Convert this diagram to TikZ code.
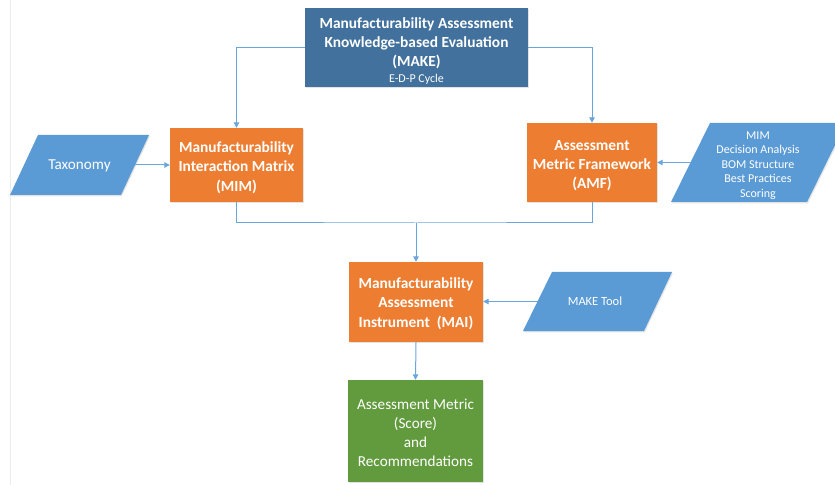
\documentclass[tikz,border=0pt]{standalone}
\usepackage{fontspec}
\setmainfont{Carlito}
\usetikzlibrary{arrows.meta,shadows}
\definecolor{makeblue}{HTML}{41719C}
\definecolor{orng}{HTML}{ED7D31}
\definecolor{pblue}{HTML}{5B9BD5}
\definecolor{grn}{HTML}{629B3E}
\definecolor{conn}{HTML}{6AA5DC}
\newcommand{\lift}[1]{\rule{0pt}{#1}}
\begin{document}
\begin{tikzpicture}[x=1bp,y=-1bp,
  shade/.style={drop shadow={opacity=0.22,shadow xshift=0.8bp,shadow yshift=-1.4bp}},
  box/.style={rectangle, fill=#1, text=white, align=center, inner sep=0pt, shade},
  parashape/.style={fill=pblue, shade},
  ptext/.style={text=white, align=center, inner sep=0pt},
  fbig/.style={font=\fontsize{15.4bp}{19.3bp}\selectfont\bfseries},
  freg/.style={font=\fontsize{15.2bp}{19bp}\selectfont},
  fsmall/.style={font=\fontsize{12bp}{14.5bp}\selectfont},
  link/.style={draw=conn, line width=1bp},
  arr/.style={link, -{Triangle[length=5.5bp,width=5.5bp]}}
]
\useasboundingbox (0,0) rectangle (835,485);
\fill[white] (0,0) rectangle (835,485);
\draw[black!8, line width=0.8bp] (10,0) -- (10,485);

\node[box=makeblue, fbig, minimum width=223bp, minimum height=79bp] (make) at (416.5,47.5)
  {\lift{18bp}Manufacturability Assessment\\Knowledge-based Evaluation\\(MAKE)\\[-3.3bp]{\fontsize{12bp}{14bp}\selectfont\mdseries E-D-P Cycle}};

\node[box=orng, fbig, minimum width=133bp, minimum height=74bp] (mim) at (236.5,165)
  {\lift{16bp}Manufacturability\\Interaction Matrix\\(MIM)};
\node[box=orng, fbig, minimum width=130bp, minimum height=79bp] (amf) at (592,162.5)
  {\lift{16bp}Assessment\\Metric Framework\\(AMF)};
\node[box=orng, fbig, minimum width=134bp, minimum height=80bp] (mai) at (416,302)
  {\lift{14bp}Manufacturability\\Assessment\\Instrument\ \ (MAI)};
\node[box=grn, freg, minimum width=135bp, minimum height=102bp] (score) at (415.5,431)
  {\lift{15bp}Assessment Metric\\(Score)\\and\\Recommendations};

% parallelograms
\fill[parashape] (38,135) -- (149,135) -- (121,195) -- (10,195) -- cycle;
\node[ptext, freg] (tax) at (79.5,165.5) {Taxonomy};
\coordinate (taxE) at (135,165);

\fill[parashape] (710,123) -- (846,123) -- (807,202) -- (671,202) -- cycle;
\node[ptext, fsmall] (inp) at (758,162.5)
  {\lift{14bp}MIM\\Decision Analysis\\BOM Structure\\Best Practices\\Scoring};
\coordinate (inpW) at (690.5,162.5);

\fill[parashape] (552,272) -- (672,272) -- (644,331) -- (523,331) -- cycle;
\node[ptext, font=\fontsize{12.5bp}{15bp}\selectfont] (tool) at (595,301) {MAKE Tool};
\coordinate (toolW) at (537.5,301.5);

\draw[arr] (make.west) -| (mim.north);
\draw[arr] (make.east) -| (amf.north);
\coordinate (jn) at (416,223);
\draw[link] (mim.south) |- (jn) -| (amf.south);
\draw[arr] (jn) -- (mai.north);
\draw[arr] (taxE) -- (taxE -| mim.west);
\draw[arr] (inpW) -- (inpW -| amf.east);
\draw[arr] (toolW) -- (toolW -| mai.east);
\draw[arr] (mai.south) -- (score.north);
\end{tikzpicture}
\end{document}
